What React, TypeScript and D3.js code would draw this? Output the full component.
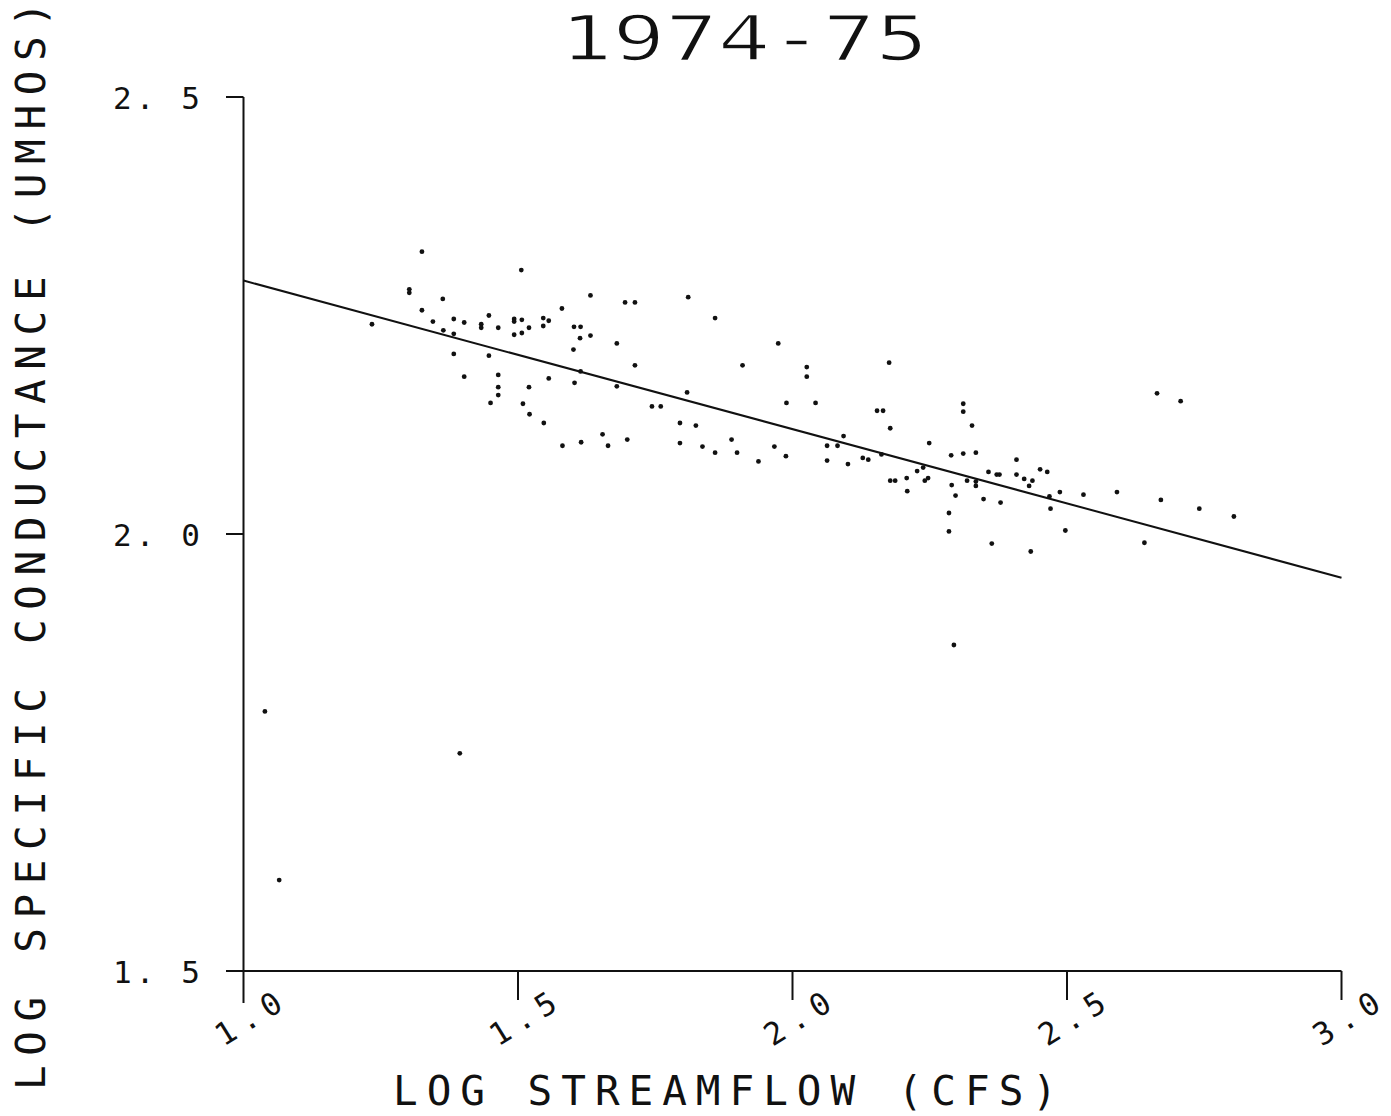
import React from "react";
import * as d3 from "d3";

// ---- data ----
const title = "1974-75";
const xLabel = "LOG STREAMFLOW (CFS)";
const yLabel = "LOG SPECIFIC CONDUCTANCE (UMHOS)";

const xTicks = [1.0, 1.5, 2.0, 2.5, 3.0];
const xTickLabels = ["1.0", "1.5", "2.0", "2.5", "3.0"];
const yTicks = [1.5, 2.0, 2.5];
const yTickLabels = ["1. 5", "2. 0", "2. 5"];

// regression line endpoints [logQ, logSC]
const fitX = [1.0, 3.0];
const fitY = [2.29, 1.95];

// observations: log streamflow
const obsX = [
  1.325, 1.506, 1.302, 1.302, 1.363, 1.632, 1.695, 1.713, 1.325, 1.234,
  1.345, 1.383, 1.402, 1.433, 1.433, 1.447, 1.464, 1.493, 1.493, 1.507,
  1.52, 1.493, 1.507, 1.546, 1.546, 1.556, 1.58, 1.602, 1.614, 1.613,
  1.632, 1.601, 1.68, 1.364, 1.383, 1.383, 1.447, 1.402, 1.464, 1.464,
  1.464, 1.45, 1.52, 1.556, 1.614, 1.603, 1.509, 1.521, 1.547, 1.713,
  1.68, 1.744, 1.76, 1.654, 1.699, 1.581, 1.615, 1.664, 1.81, 1.859,
  1.974, 1.909, 2.026, 2.026, 2.176, 1.808, 1.989, 2.042, 1.795, 1.824,
  2.154, 2.165, 2.178, 2.311, 2.311, 2.327, 1.795, 1.836, 1.859, 1.889,
  1.899, 1.938, 1.967, 1.988, 2.063, 2.082, 2.093, 2.063, 2.101, 2.128,
  2.138, 2.162, 2.249, 2.289, 2.311, 2.334, 2.227, 2.238, 2.178, 2.187,
  2.208, 2.241, 2.247, 2.209, 2.29, 2.297, 2.318, 2.334, 2.334, 2.357,
  2.348, 2.408, 2.451, 2.464, 2.372, 2.377, 2.408, 2.422, 2.437, 2.431,
  2.379, 2.468, 2.47, 2.487, 2.53, 2.591, 2.671, 2.497, 2.285, 2.285,
  2.363, 2.434, 2.641, 2.664, 2.707, 2.741, 2.804, 2.294, 1.394, 1.039,
  1.065,
];
// observations: log specific conductance
const obsY = [
  2.323, 2.302, 2.28, 2.276, 2.269, 2.273, 2.265, 2.265, 2.256, 2.24,
  2.243, 2.246, 2.242, 2.24, 2.236, 2.25, 2.236, 2.246, 2.243, 2.245,
  2.236, 2.228, 2.23, 2.247, 2.238, 2.244, 2.258, 2.237, 2.237, 2.224,
  2.227, 2.211, 2.218, 2.233, 2.229, 2.206, 2.204, 2.18, 2.182, 2.168,
  2.159, 2.15, 2.168, 2.178, 2.186, 2.173, 2.149, 2.137, 2.127, 2.193,
  2.169, 2.146, 2.146, 2.114, 2.108, 2.101, 2.105, 2.101, 2.271, 2.247,
  2.218, 2.193, 2.191, 2.18, 2.196, 2.162, 2.15, 2.15, 2.127, 2.124,
  2.141, 2.141, 2.121, 2.149, 2.14, 2.124, 2.104, 2.1, 2.093, 2.108,
  2.093, 2.083, 2.1, 2.089, 2.101, 2.101, 2.112, 2.084, 2.08, 2.087,
  2.085, 2.091, 2.104, 2.09, 2.092, 2.093, 2.072, 2.076, 2.061, 2.061,
  2.064, 2.061, 2.064, 2.049, 2.056, 2.044, 2.061, 2.06, 2.055, 2.071,
  2.04, 2.085, 2.074, 2.071, 2.068, 2.068, 2.068, 2.063, 2.061, 2.055,
  2.036, 2.043, 2.029, 2.048, 2.045, 2.048, 2.039, 2.004, 2.024, 2.003,
  1.989, 1.98, 1.99, 2.161, 2.152, 2.029, 2.02, 1.873, 1.749, 1.797,
  1.604,
];

const W = 1391;
const H = 1116;
const FONT = "'DejaVu Sans Mono', monospace";

export default function App() {
  const x = d3.scaleLinear().domain([1, 3]).range([243.5, 1341.5]);
  const y = d3.scaleLinear().domain([1.5, 2.5]).range([971, 97]);
  const line = d3
    .line<number>()
    .x((_, i) => x(fitX[i]))
    .y((v) => y(v));
  const ink = "#111";

  return (
    <svg
      width={W}
      height={H}
      viewBox={`0 0 ${W} ${H}`}
      style={{ position: "absolute", left: 0, top: 0, background: "#fff" }}
    >
      <rect width={W} height={H} fill="#fff" />
      {/* title (white stroke thins the glyphs to a pen-plotter weight) */}
      <text
        x={560}
        y={60}
        fontFamily={FONT}
        fontSize={62}
        textLength={368}
        lengthAdjust="spacingAndGlyphs"
        fill={ink}
        stroke="#fff"
        strokeWidth={1.6}
      >
        {title}
      </text>

      {/* y axis */}
      <line x1={x(1)} x2={x(1)} y1={y(2.5)} y2={1003} stroke={ink} strokeWidth={2} />
      {yTicks.map((t, i) => (
        <g key={"yt" + i}>
          <line x1={226} x2={x(1)} y1={y(t)} y2={y(t)} stroke={ink} strokeWidth={2} />
          <text
            x={113}
            y={y(t) + 12}
            fontFamily={FONT}
            fontSize={31}
            textLength={87}
            lengthAdjust="spacing"
            fill={ink}
          >
            {yTickLabels[i]}
          </text>
        </g>
      ))}

      {/* x axis */}
      <line x1={226} x2={x(3)} y1={y(1.5)} y2={y(1.5)} stroke={ink} strokeWidth={2} />
      {xTicks.map((t, i) => (
        <g key={"xt" + i}>
          {i > 0 && (
            <line x1={x(t)} x2={x(t)} y1={y(1.5)} y2={1000} stroke={ink} strokeWidth={2} />
          )}
          <text
            transform={`translate(${x(t) - 20},1047) rotate(-32)`}
            fontFamily={FONT}
            fontSize={31}
            textLength={72}
            lengthAdjust="spacing"
            fill={ink}
          >
            {xTickLabels[i]}
          </text>
        </g>
      ))}

      {/* axis titles */}
      <text
        x={393}
        y={1105}
        fontFamily={FONT}
        fontSize={41}
        textLength={664}
        lengthAdjust="spacing"
        fill={ink}
      >
        {xLabel}
      </text>
      <text
        transform="translate(45,1090) rotate(-90)"
        fontFamily={FONT}
        fontSize={41}
        textLength={1088}
        lengthAdjust="spacing"
        fill={ink}
      >
        {yLabel}
      </text>

      {/* regression line */}
      <path d={line(fitY) || ""} fill="none" stroke={ink} strokeWidth={2} />

      {/* observations */}
      {obsX.map((v, i) => (
        <circle key={"p" + i} cx={x(v)} cy={y(obsY[i])} r={2.4} fill={ink} />
      ))}
    </svg>
  );
}
